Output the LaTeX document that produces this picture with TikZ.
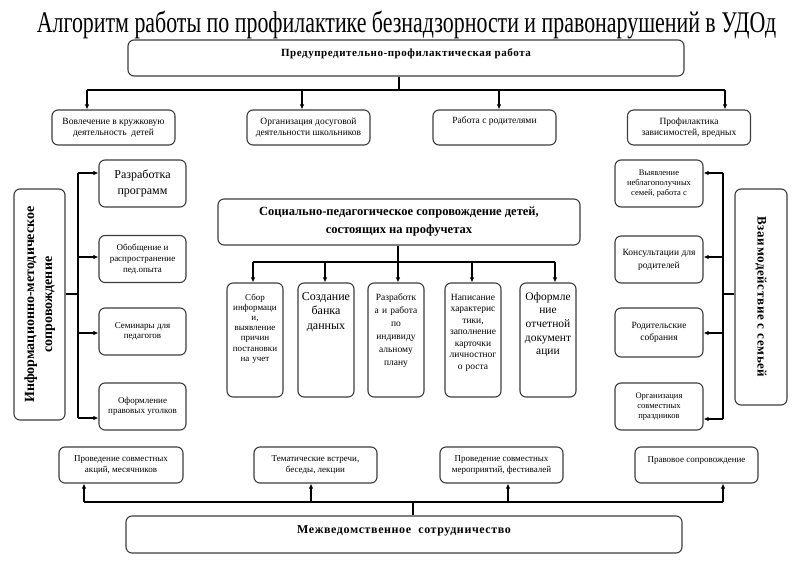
\documentclass[tikz,border=0pt]{standalone}
\usepackage{fontspec}
\setmainfont{Liberation Serif}
\newfontfamily\spaced[LetterSpace=12]{Liberation Serif}
\newfontfamily\halfspaced[LetterSpace=5]{Liberation Serif}
\usetikzlibrary{arrows.meta,positioning}
\definecolor{framegray}{HTML}{3C3C3C}

\tikzset{
  box/.style={draw=framegray, line width=1.1pt, rounded corners=6pt, align=center,
    inner sep=2pt, font=\fontsize{9}{10.5}\selectfont},
  rowbox/.style={box, minimum width=123pt, minimum height=35pt},
  sidebox/.style={box, minimum width=87pt, minimum height=47pt},
  colbox/.style={box, text width=52pt, minimum height=114pt, text height=15pt, text depth=95pt},
  link/.style={line width=1.1pt},
  arr/.style={link, -{Latex[length=5pt,width=4.5pt]}}
}

\begin{document}
\begin{tikzpicture}[x=1pt,y=-1pt]
\useasboundingbox (0,0) rectangle (800,564);

\node[anchor=base, font=\fontsize{30}{30}\selectfont] (title) at (406.5,33)
  {\scalebox{0.73}[1]{Алгоритм работы по профилактике безнадзорности и правонарушений в УДОд}};

% top part
\node[box, minimum width=556pt, minimum height=36pt, text height=15pt, text depth=17pt,
  font=\halfspaced\bfseries\fontsize{11}{12}\selectfont] (prev) at (406,58)
  {Предупредительно-профилактическая работа};

\node[rowbox, font=\fontsize{9.5}{11}\selectfont] (tb1) at (113.5,127.5) {Вовлечение в кружковую\\деятельность\ \ детей};
\node[rowbox, font=\fontsize{9.5}{11}\selectfont] (tb2) at (308.5,127.5) {Организация досуговой\\деятельности школьников};
\node[rowbox, text height=12pt, text depth=19pt, font=\fontsize{9.5}{11}\selectfont] (tb3) at (494.5,127.5) {Работа с родителями};
\node[rowbox, font=\fontsize{9.5}{11}\selectfont] (tb4) at (689,127.5) {Профилактика\\зависимостей, вредных};

\draw[link] (prev.south -| 399,0) -- (399,90);
\draw[link] (87,90) -- (725,90);
\foreach \x/\n in {87/tb1,302/tb2,499/tb3,725/tb4}
  \draw[arr] (\x,90) -- (\x,90 |- \n.north);

% left side
\node[box, minimum width=51pt, minimum height=231pt, font=\bfseries\fontsize{14}{18}\selectfont]
  (info) at (39.5,304.5)
  {\rotatebox{90}{\begin{tabular}{@{}c@{}}Информационно-методическое\\сопровождение\end{tabular}}};

\node[sidebox, font=\fontsize{12}{16}\selectfont] (lb1) at (142.5,183.5) {Разработка\\программ};
\node[sidebox, font=\fontsize{9}{11}\selectfont] (lb2) at (142.5,259) {Обобщение и\\распространение\\пед.опыта};
\node[sidebox, font=\fontsize{9}{10.5}\selectfont] (lb3) at (142.5,331.5) {Семинары для\\педагогов};
\node[sidebox, font=\fontsize{9}{10.5}\selectfont] (lb4) at (142.5,406.5) {Оформление\\правовых уголков};

\draw[link] (info.east |- 0,294) -- (78,294);
\draw[link] (78,173) -- (78,418);
\foreach \y/\n in {173/lb1,257/lb2,333/lb3,418/lb4}
  \draw[arr] (78,\y) -- (78,\y -| \n.west);

% right side
\node[box, minimum width=52pt, minimum height=216pt, font=\halfspaced\bfseries\fontsize{13}{16}\selectfont]
  (family) at (761,297) {\rotatebox{-90}{Взаимодействие с семьей}};

\node[sidebox, minimum width=88pt, font=\fontsize{8.5}{10}\selectfont] (rb1) at (659,183.5) {Выявление\\неблагополучных\\семей, работа с};
\node[sidebox, minimum width=88pt, font=\fontsize{9.5}{13}\selectfont] (rb2) at (659,259.5) {Консультации для\\родителей};
\node[sidebox, minimum width=88pt, minimum height=49pt, font=\fontsize{9.5}{12}\selectfont] (rb3) at (659,332.5) {Родительские\\собрания};
\node[sidebox, minimum width=88pt, font=\fontsize{8.5}{10}\selectfont] (rb4) at (659,406.5) {Организация\\совместных\\праздников};

\draw[link] (family.west |- 0,294) -- (723,294);
\draw[link] (723,173) -- (723,419);
\foreach \y/\n in {173/rb1,257/rb2,333/rb3,419/rb4}
  \draw[arr] (723,\y) -- (723,\y -| \n.east);

% centre
\node[box, minimum width=362pt, minimum height=46pt, font=\bfseries\fontsize{12.5}{18}\selectfont]
  (social) at (399,222) {Социально-педагогическое сопровождение детей,\\состоящих на профучетах};

\node[colbox, font=\fontsize{9}{10.2}\selectfont] (c1) at (255,340)
  {Сбор\\информаци\\и,\\выявление\\причин\\постановки\\на учет};
\node[colbox, font=\fontsize{12}{14.5}\selectfont] (c2) at (326,340) {Создание\\банка\\данных};
\node[colbox, font=\fontsize{9.5}{13}\selectfont] (c3) at (396,340)
  {Разработк\\а и работа\\по\\индивиду\\альному\\плану};
\node[colbox, font=\fontsize{9.5}{11.5}\selectfont] (c4) at (473,340)
  {Написание\\характерис\\тики,\\заполнение\\карточки\\личностног\\о роста};
\node[colbox, font=\fontsize{11.5}{13.7}\selectfont] (c5) at (548,340)
  {Оформле\\ние\\отчетной\\документ\\ации};

\draw[link] (social.south -| 398,0) -- (398,262);
\draw[link] (253,262) -- (555,262);
\foreach \x/\n in {253/c1,325/c2,398/c3,472/c4,555/c5}
  \draw[arr] (\x,262) -- (\x,262 |- \n.north);

% bottom part
\node[rowbox, minimum width=124pt, minimum height=36pt] (bb1) at (121,465) {Проведение совместных\\акций, месячников};
\node[rowbox, minimum height=36pt] (bb2) at (315.5,465) {Тематические встречи,\\беседы, лекции};
\node[rowbox, minimum height=36pt] (bb3) at (501.5,465) {Проведение совместных\\мероприятий, фестивалей};
\node[rowbox, minimum height=36pt, text height=13pt, text depth=19pt] (bb4) at (696.5,465) {Правовое сопровождение};

\node[box, minimum width=556pt, minimum height=37pt, text height=15pt, text depth=18pt,
  font=\halfspaced\bfseries\fontsize{12}{14}\selectfont] (inter) at (404,534.5)
  {Межведомственное\ \ сотрудничество};

\draw[link] (inter.north -| 413,0) -- (413,502);
\draw[link] (84,502) -- (723,502);
\foreach \x/\n in {84/bb1,311/bb2,508/bb3,723/bb4}
  \draw[arr] (\x,502) -- (\x,502 |- \n.south);

\end{tikzpicture}
\end{document}
